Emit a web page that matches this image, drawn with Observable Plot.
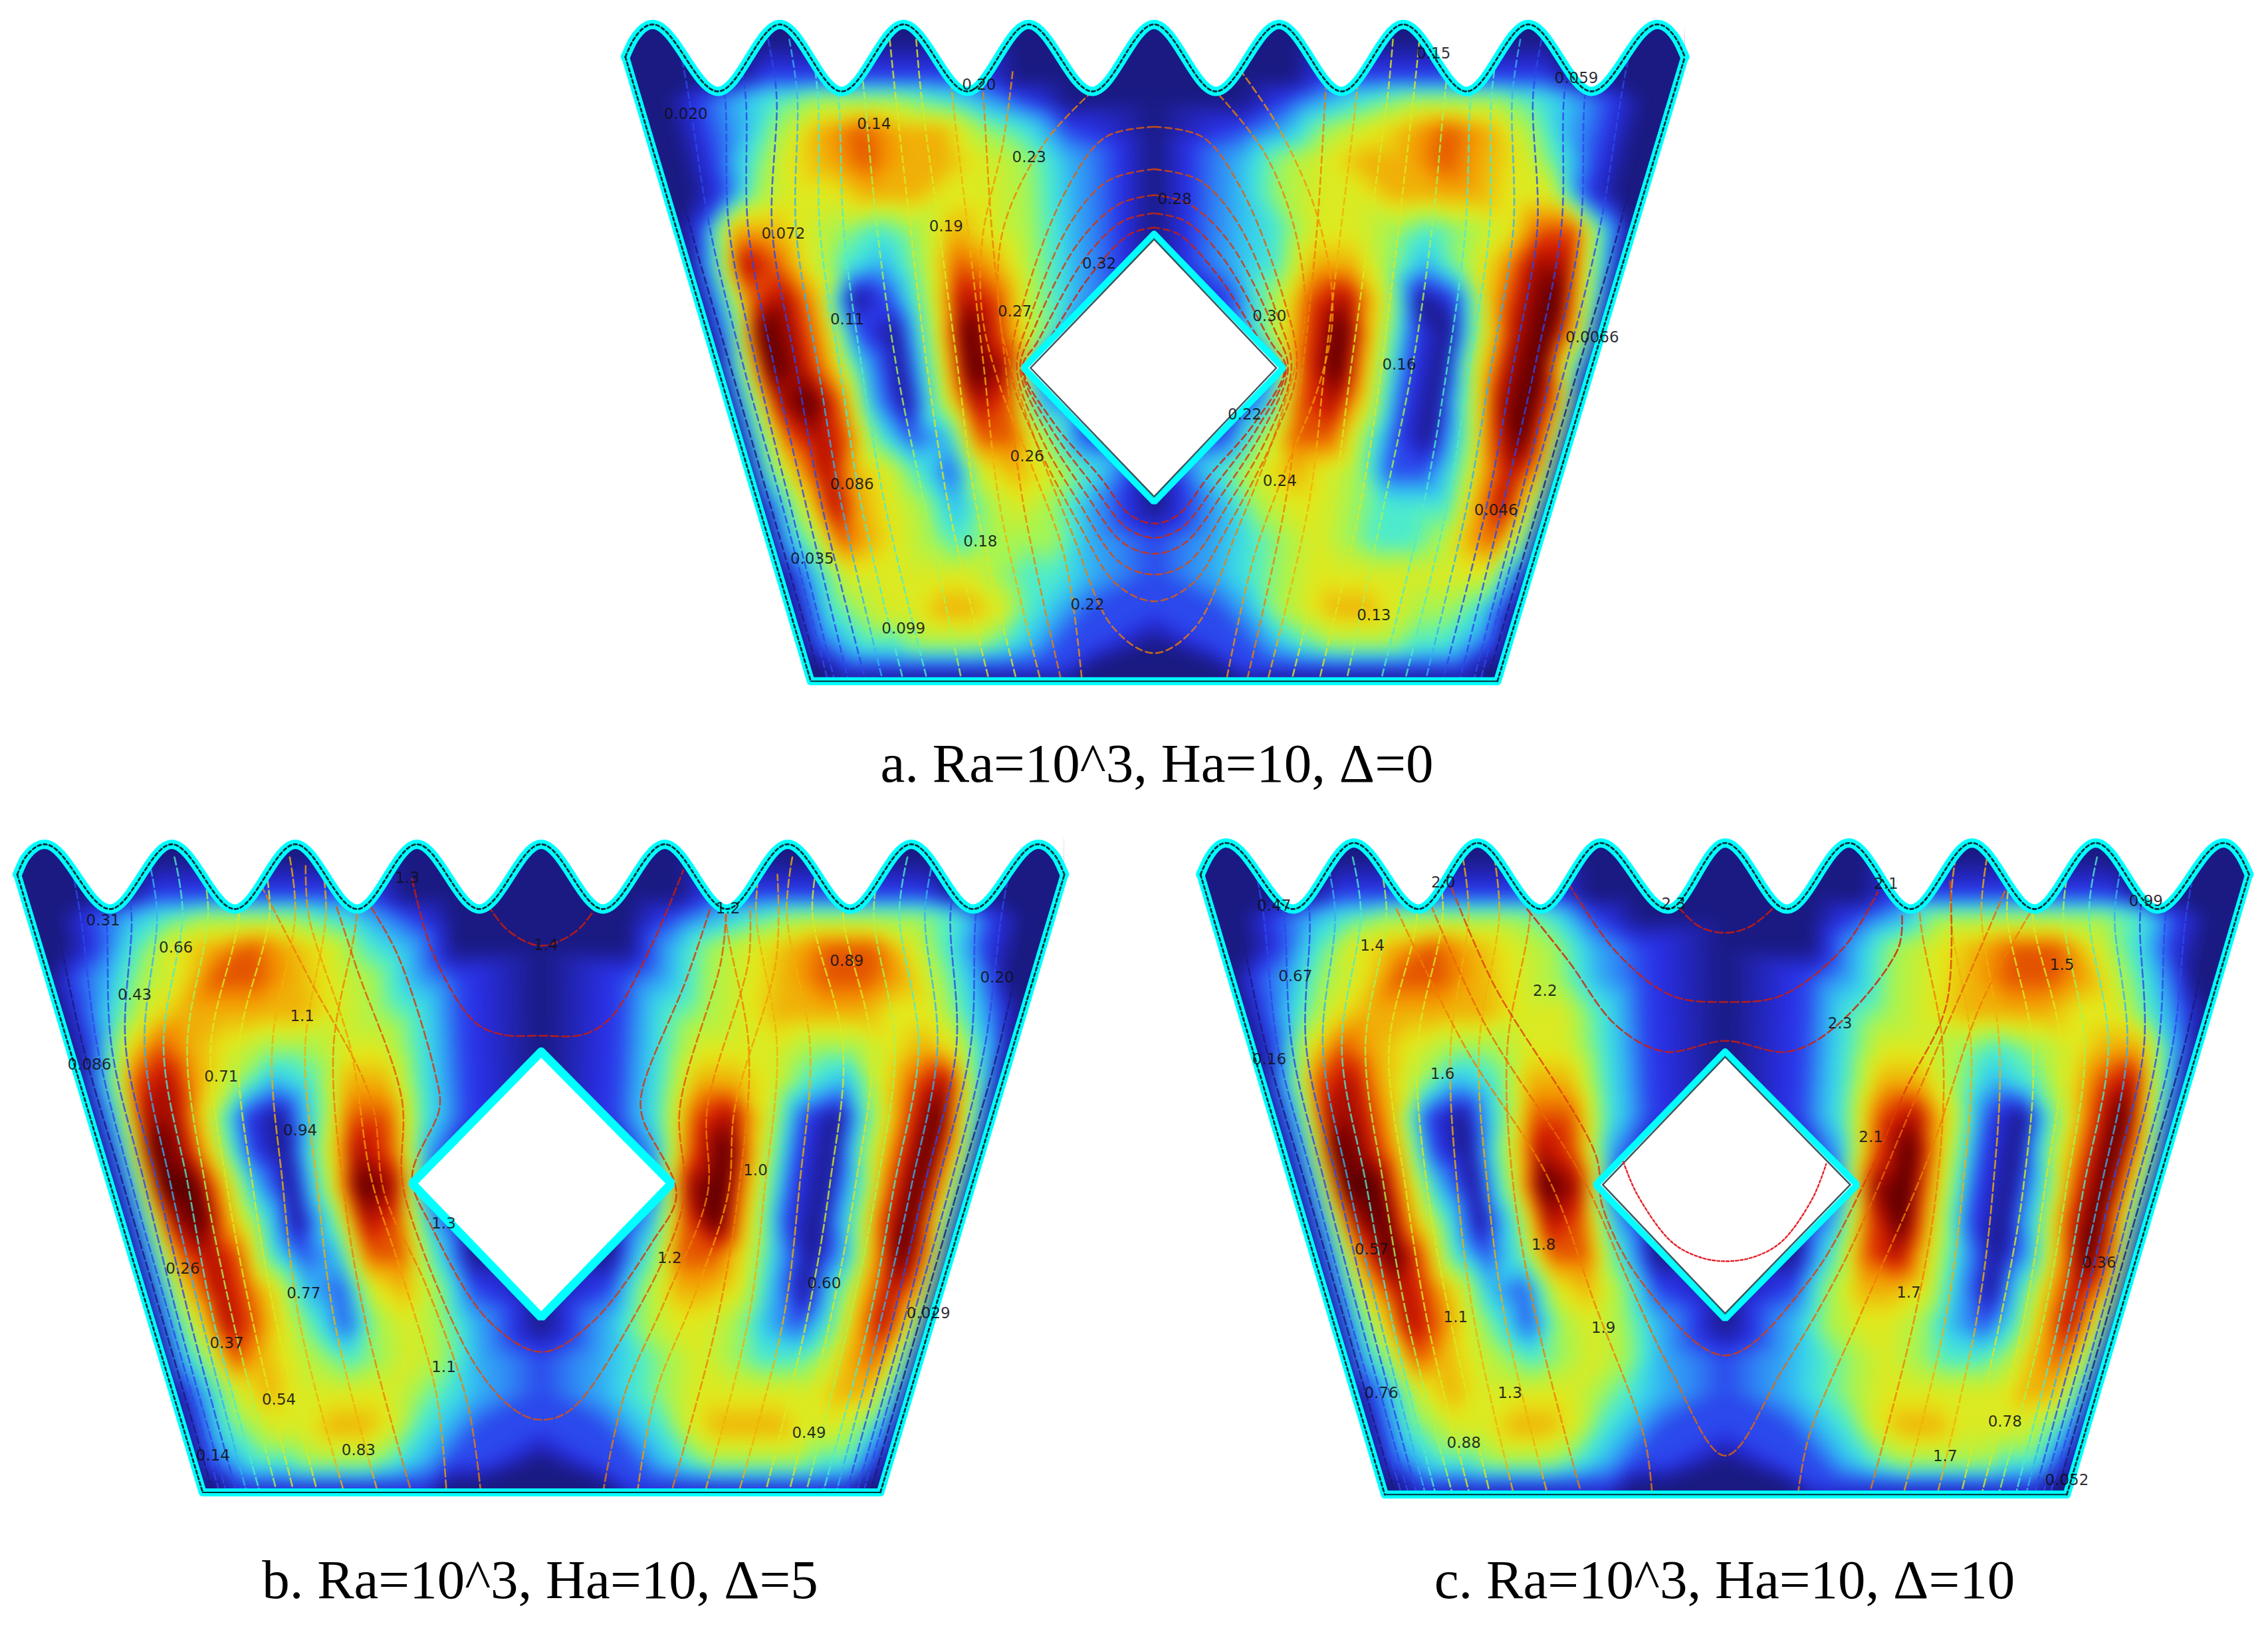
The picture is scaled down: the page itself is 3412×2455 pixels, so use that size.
<!DOCTYPE html>
<html><head><meta charset="utf-8">
<style>html,body{margin:0;padding:0;background:#fff}svg{display:block}</style>
<script src="https://cdn.jsdelivr.net/npm/d3@7"></script>
<script src="https://cdn.jsdelivr.net/npm/@observablehq/plot@0.6"></script>
</head><body>
<script>
// Sample layout: columns are fractions across the cavity, rows are read heights.
const sColumns=[-1,-.95,-.88,-.81,-.74,-.66,-.58,-.5,-.42,-.34,-.26,-.17,0,.17,.26,.34,.42,.5,.58,.66,.74,.81,.88,.95,1];
const rowHeights=[60,150,200,270,340,420,500,580,660,740,820,900,980,1060,1140,1220,1300,1380,1460,1510,1548];
const velocityLevels=[0,.8,1.5,2.3,3.1,4,5.2,6.4,7.5,8.5];
const velocityColors=["#1a1a82","#2a30e8","#2f86f5","#35cdf0","#50efc8","#a6f552","#e6e818","#f59400","#d61c00","#7c0000"];

const heatA=[
[0,0,0,0,0,0,0,0,0,0,0,0,0,0,0,0,0,0,0,0,0,0,0,0,0],
[0,0,0,0,1,1,1,1,1,1,0,0,0,0,0,1,1,1,1,1,1,0,0,0,0],
[0,0,1,2,3,4,4,4,3,2,1,0,0,0,1,2,3,4,4,4,3,2,1,0,0],
[0,0,1,2,4,6,7,6,6,4,3,1,0,1,2,4,5,6,7,6,4,2,1,0,0],
[0,0,1,3,5,6,7,6,6,5,4,2,0,2,4,5,6,6,7,6,5,3,1,0,0],
[0,0,1,4,5,5,6,6,5,5,4,2,0,2,4,5,5,6,6,6,5,5,1,0,0],
[0,1,6,6,5,4,3,4,6,5,4,2,0,2,3,5,5,4,3,4,5,7,7,2,0],
[0,2,8,7,5,3,2,4,7,6,4,2,0,2,3,6,6,4,2,4,6,8,8,3,0],
[0,2,7,8,6,0,1,4,8,7,4,2,0,1,4,7,8,5,0,1,6,8,9,4,0],
[0,2,9,8,6,1,0,4,9,7,4,1,0,1,4,7,9,5,1,0,5,8,9,5,0],
[0,3,9,8,6,2,0,4,9,8,1,1,0,0,1,7,9,5,1,0,5,8,9,4,0],
[0,3,8,9,7,2,0,4,8,7,2,1,0,0,2,7,8,5,1,0,4,8,9,6,0],
[0,3,7,8,7,3,1,2,7,7,4,1,0,1,4,7,7,4,1,0,3,7,9,6,0],
[0,3,6,8,6,5,3,1,5,6,5,3,0,3,5,6,5,4,1,1,3,6,8,6,0],
[0,2,5,8,6,5,4,2,4,5,4,2,0,2,4,5,5,4,3,3,3,6,8,5,0],
[0,2,4,7,6,5,4,3,4,4,4,2,1,2,3,4,5,4,3,3,4,6,7,4,0],
[0,1,3,5,5,5,5,5,4,3,3,2,1,2,3,4,5,5,5,5,5,5,5,2,0],
[0,1,3,4,5,5,6,6,5,3,2,1,1,1,2,4,5,6,6,5,4,4,3,1,0],
[0,1,2,3,3,4,4,4,3,2,1,1,0,1,1,2,3,4,4,4,3,3,2,1,0],
[0,0,1,1,1,1,1,1,1,1,1,0,0,0,1,1,1,1,1,1,1,1,1,0,0],
[0,0,0,0,0,0,0,0,0,0,0,0,0,0,0,0,0,0,0,0,0,0,0,0,0]];

const heatB=[
[0,0,0,0,0,0,0,0,0,0,0,0,0,0,0,0,0,0,0,0,0,0,0,0,0],
[0,0,0,0,1,1,1,1,1,1,0,0,0,0,0,1,1,1,1,1,1,0,0,0,0],
[0,0,1,2,3,4,4,4,3,2,1,0,0,0,1,2,3,4,4,4,4,3,1,0,0],
[0,0,1,3,5,6,7,6,5,3,2,0,0,0,2,4,5,6,7,7,5,3,1,0,0],
[0,1,2,4,5,7,7,6,5,4,2,1,0,1,2,4,5,6,7,7,6,4,2,0,0],
[0,1,3,5,6,6,6,6,5,4,3,1,0,1,3,4,5,6,6,6,5,5,3,1,0],
[0,1,5,7,6,5,4,4,5,5,3,1,0,1,3,5,5,5,4,4,5,6,5,2,0],
[0,2,7,8,6,4,2,3,6,6,3,1,0,1,3,6,6,5,3,2,5,7,8,3,0],
[0,2,8,8,5,1,0,3,7,7,3,1,0,1,3,7,8,5,1,0,4,7,9,4,0],
[0,2,9,8,5,1,0,4,8,7,2,0,0,0,2,7,9,5,1,0,4,7,9,5,0],
[0,2,9,9,6,2,0,4,9,8,1,0,0,0,1,8,9,5,1,0,3,7,9,5,0],
[0,2,8,9,6,3,0,3,8,7,2,0,0,0,2,7,9,5,1,0,3,7,9,5,0],
[0,2,7,8,7,3,1,2,7,7,3,0,0,0,3,7,7,5,2,0,2,6,9,6,0],
[0,2,6,8,7,5,2,1,5,6,4,1,0,1,4,6,6,5,2,0,3,6,8,6,0],
[0,2,5,8,7,5,3,1,4,5,4,2,0,2,4,5,5,4,2,1,3,6,8,5,0],
[0,2,4,7,6,5,4,3,4,5,4,2,1,2,3,4,5,4,3,3,4,6,7,4,0],
[0,1,3,5,6,5,5,5,5,4,3,2,1,2,3,4,5,5,5,5,5,6,6,3,0],
[0,1,3,4,5,5,6,6,5,3,2,1,1,1,2,3,5,6,6,6,5,5,4,2,0],
[0,1,2,3,3,4,4,4,3,2,1,1,0,1,1,2,3,4,4,4,4,3,3,1,0],
[0,0,1,1,1,1,1,1,1,1,0,0,0,0,1,1,1,1,1,1,1,1,1,0,0],
[0,0,0,0,0,0,0,0,0,0,0,0,0,0,0,0,0,0,0,0,0,0,0,0,0]];

const heatC=[
[0,0,0,0,0,0,0,0,0,0,0,0,0,0,0,0,0,0,0,0,0,0,0,0,0],
[0,0,0,0,1,1,1,1,1,1,0,0,0,0,0,1,1,1,1,1,1,0,0,0,0],
[0,0,1,2,3,4,4,4,4,3,1,0,0,0,1,2,4,4,4,4,4,3,1,0,0],
[0,0,1,3,5,6,7,6,5,4,2,1,0,0,2,4,5,6,7,7,5,3,1,0,0],
[0,1,2,4,5,7,7,6,5,4,2,1,0,1,2,4,5,6,7,7,6,4,2,0,0],
[0,1,3,5,6,6,6,6,5,5,3,1,0,1,3,4,5,6,6,6,5,5,3,1,0],
[0,1,5,7,6,5,4,4,5,5,3,1,0,1,3,5,5,4,3,4,5,6,6,2,0],
[0,2,7,8,6,4,2,3,6,6,3,1,0,1,3,6,6,4,2,3,5,7,8,3,0],
[0,2,8,8,6,1,0,3,7,7,3,1,0,1,3,7,8,5,1,0,4,7,9,4,0],
[0,2,9,8,6,1,0,4,8,7,2,0,0,0,2,7,9,5,1,0,4,7,9,5,0],
[0,2,9,9,6,2,0,4,9,8,1,0,0,0,1,8,9,5,1,0,3,7,9,5,0],
[0,2,8,9,6,3,0,3,8,7,2,0,0,0,2,7,9,5,1,0,3,7,9,5,0],
[0,2,7,9,7,3,1,3,7,7,3,0,0,0,3,7,8,5,2,0,2,6,9,6,0],
[0,2,6,8,7,5,2,1,5,6,4,1,0,1,4,6,6,5,2,0,3,6,8,6,0],
[0,2,5,8,7,5,3,1,4,5,4,2,0,2,4,5,5,4,2,1,3,6,8,5,0],
[0,2,4,7,6,5,4,3,4,5,4,2,1,2,3,4,5,4,3,3,4,6,7,4,0],
[0,1,3,5,6,5,5,5,5,4,3,2,1,2,3,4,5,5,5,5,5,6,6,3,0],
[0,1,3,4,5,5,6,6,5,3,2,1,1,1,2,3,5,6,6,5,5,5,4,2,0],
[0,1,2,3,3,4,4,4,3,2,1,1,0,1,1,2,3,4,4,4,4,3,3,1,0],
[0,0,1,1,1,1,1,1,1,1,0,0,0,0,1,1,1,1,1,1,1,1,1,0,0],
[0,0,0,0,0,0,0,0,0,0,0,0,0,0,0,0,0,0,0,0,0,0,0,0,0]];

// Streamlines beside the walls: [level, s at read heights 190,500,820,1140,1545], drawn left and right.
const sideHeights=[190,500,820,1140,1545];
const sideA=[[0,.96,.97,.97,.97,.97],[1,.9,.93,.94,.94,.95],[1,.83,.89,.91,.92,.93],[1,.79,.85,.87,.88,.89],[1,.73,.8,.82,.84,.84],[2,.69,.75,.77,.79,.79],[3,.65,.7,.72,.74,.73],[3,.61,.65,.67,.68,.66],[4,.56,.58,.59,.58,.56],[5,.5,.51,.52,.52,.48],[5,.45,.45,.45,.45,.4],[6,.39,.39,.39,.39,.33],[6.6,.33,.34,.34,.33,.27]];
const sideB=[[0,.95,.97,.97,.97,.97],[1,.9,.94,.95,.95,.95],[1,.85,.91,.92,.93,.93],[1,.8,.88,.89,.9,.9],[2,.75,.84,.86,.87,.87],[3,.7,.8,.82,.84,.83],[4,.65,.75,.78,.79,.78],[5,.59,.7,.73,.74,.73],[5,.53,.64,.67,.68,.66],[6,.48,.57,.6,.62,.58],[6,.42,.5,.52,.53,.48],[6.6,.36,.44,.46,.45,.38]];
const sideC=[[0,.95,.97,.97,.97,.97],[1,.9,.945,.95,.955,.95],[1,.86,.915,.925,.93,.93],[1,.81,.885,.895,.905,.905],[2,.76,.85,.87,.88,.88],[3,.71,.81,.83,.85,.85],[4,.66,.76,.79,.81,.8],[5,.6,.71,.74,.76,.75],[5,.55,.65,.69,.7,.69],[6,.5,.58,.62,.64,.62],[6,.44,.52,.55,.56,.52],[6.6,.38,.46,.49,.48,.42]];

// Streamlines round the obstacle: [level, x,y, x,y, ...] in read coordinates.
const centerA=[
[6.4,574,135,560,300,530,520,530,700,555,860,600,1040,650,1260,675,1545],
[6.4,905,130,960,260,1020,480,1040,700,1020,860,970,1060,925,1260,885,1545],
[6.6,690,180,620,300,560,500,555,700,572,820,610,1000,660,1200,720,1420,780,1480,840,1420,900,1200,950,1000,985,820,1000,700,985,500,940,320,870,180],
[6.9,780,262,710,285,655,400,595,640,572,820,605,980,670,1180,725,1320,780,1360,835,1320,890,1180,955,980,988,820,965,640,905,400,850,285,780,262],
[7.1,780,360,715,385,660,480,600,700,580,820,615,980,670,1130,730,1270,780,1298,830,1270,890,1130,945,980,980,820,960,700,900,480,845,385,780,360],
[7.3,780,420,730,440,670,530,605,730,585,820,620,960,680,1110,735,1225,780,1250,825,1225,880,1110,940,960,975,820,955,730,890,530,830,440,780,420],
[7.4,780,462,735,480,680,565,610,760,588,820,630,960,690,1090,740,1190,780,1213,820,1190,870,1090,930,960,972,820,950,760,880,565,825,480,780,462],
[7.5,780,495,745,510,690,600,615,780,590,820,635,950,700,1070,745,1160,780,1180,815,1160,860,1070,925,950,970,820,945,780,870,600,815,510,780,495]];
const centerB=[
[7.5,700,170,730,230,778,265,830,230,860,170],
[7.5,590,110,620,280,680,440,720,470,778,473,840,470,880,430,940,260,985,90],
[7.3,530,175,570,290,625,570,630,640,590,800,620,920,700,1130,778,1205,850,1140,940,950,975,840,925,660,925,600,990,340,1025,175],
[7,480,175,510,320,575,620,575,800,590,900,680,1230,740,1340,778,1362,820,1340,900,1160,985,860,980,640,1040,300,1048,175],
[6.6,370,125,440,340,530,620,550,840,610,1050,670,1320,690,1530],
[6.6,868,1530,900,1300,960,1080,1020,840,1020,640,1080,300,1082,175],
[6.3,435,80,440,200,500,500,530,800,570,1000,625,1300,640,1530],
[6.3,918,1530,945,1300,1000,1080,1050,840,1060,640,1120,300,1122,100]];
const centerC=[
[7.5,710,175,740,220,778,235,815,220,850,175],
[7.5,550,120,620,280,700,380,778,395,860,380,950,270,1000,140],
[7.5,490,180,550,300,620,450,690,510,778,485,870,510,940,450,1030,270,1035,190],
[7.2,380,130,440,350,590,750,600,870,660,1050,778,1213,900,1040,985,800,1040,600,1100,400,1105,110],
[6.8,350,170,430,450,570,800,640,1050,700,1250,778,1445,860,1250,950,1000,1060,600,1190,120],
[6.6,300,180,400,500,520,800,590,1100,660,1400,672,1535],
[6.6,884,1535,900,1400,980,1100,1075,750,1150,400,1225,180]];
const crossingC=[[7.8,630,765,650,840,700,950,740,985,778,995,820,985,860,950,905,850,925,770]];

// Read outlines: scalloped top, walls and the square obstacle.
const waveA=[[10,100],[22,60],[50,25],[145,180],[235,25],[325,180],[415,25],[508,180],[597,25],[690,180],[780,25],[870,180],[962,25],[1053,180],[1143,25],[1235,180],[1325,25],[1417,180],[1513,25],[1541,60],[1553,100]];
const waveB=[[15,100],[27,60],[55,30],[150,180],[240,30],[332,180],[420,30],[510,180],[597,30],[688,180],[778,30],[868,180],[958,30],[1048,180],[1137,30],[1228,180],[1317,30],[1407,180],[1502,30],[1528,60],[1540,100]];
const waveC=[[15,100],[27,60],[52,27],[150,180],[238,27],[332,180],[418,27],[510,180],[597,27],[695,180],[778,27],[868,180],[958,27],[1048,180],[1137,27],[1228,180],[1317,27],[1407,180],[1503,27],[1528,60],[1540,100]];
const wallsA=[[10,100],[280,1545],[1280,1545],[1553,100]];
const wallsB=[[15,100],[285,1530],[1272,1530],[1540,100]];
const wallsC=[[15,100],[283,1535],[1275,1535],[1540,100]];
const diamondA=[[780,510],[590,820],[780,1130],[968,820],[780,510]];
const diamondB=[[778,510],[590,815],[778,1125],[968,815],[778,510]];
const diamondC=[[778,510],[590,818],[778,1128],[970,818],[778,510]];
const innerA=[[780,522],[600,820],[780,1118],[958,820],[780,522]];
const innerC=[[778,522],[600,818],[778,1116],[960,818],[778,522]];

// Printed contour labels: text, x, y in read coordinates.
const labelsA=[["0.020",98,232],["0.14",372,256],["0.20",525,165],["0.23",598,332],["0.28",810,430],["0.072",240,510],["0.19",477,492],["0.32",700,578],["0.27",577,690],["0.30",948,700],["0.11",333,708],["0.16",1137,812],["0.0066",1418,750],["0.22",912,928],["0.26",595,1025],["0.24",963,1082],["0.086",340,1090],["0.046",1278,1150],["0.18",527,1222],["0.035",282,1262],["0.22",683,1368],["0.13",1100,1392],["0.099",415,1424],["0.15",1187,92],["0.059",1395,150]];
const labelsB=[["0.31",140,207],["1.3",583,108],["1.2",1050,178],["1.4",785,263],["0.66",246,270],["0.89",1223,300],["0.20",1442,338],["0.43",186,378],["1.1",430,428],["0.086",120,540],["0.71",312,568],["0.94",427,692],["1.0",1090,785],["1.3",636,908],["1.2",965,988],["0.26",256,1012],["0.77",432,1070],["0.60",1190,1047],["0.029",1342,1115],["0.37",320,1185],["1.1",636,1240],["0.54",396,1315],["0.49",1168,1393],["0.83",512,1433],["0.14",300,1445]];
const labelsC=[["0.47",122,172],["2.0",368,118],["2.1",1012,122],["2.3",703,168],["0.99",1390,162],["1.4",265,265],["1.5",1268,310],["0.67",153,335],["2.2",516,370],["2.3",945,445],["0.16",115,528],["1.6",367,562],["2.1",990,708],["1.8",514,957],["0.57",264,968],["0.36",1322,998],["1.7",1045,1068],["1.1",386,1125],["1.9",601,1150],["0.76",278,1300],["1.3",465,1300],["0.78",1185,1367],["0.88",398,1415],["1.7",1098,1447],["0.052",1275,1502]];
const captions=[["a. Ra=10^3, Ha=10, \u0394=0",1740,1177],["b. Ra=10^3, Ha=10, \u0394=5",812,2405],["c. Ra=10^3, Ha=10, \u0394=10",2594,2405]];

const panels=[
 {key:"a",ox:930,oy:20,sx:1.033,sy:.65,cx:780,wave:waveA,walls:wallsA,diamond:diamondA,inner:innerA,heat:heatA,side:sideA,center:centerA,labels:labelsA,dash:"10,6"},
 {key:"b",ox:10,oy:1250,sx:1.033,sy:.65,cx:778,wave:waveB,walls:wallsB,diamond:diamondB,inner:null,heat:heatB,side:sideB,center:centerB,labels:labelsB,dash:"12,5"},
 {key:"c",ox:1790,oy:1250,sx:1.0344,sy:.65,cx:778,wave:waveC,walls:wallsC,diamond:diamondC,inner:innerC,heat:heatC,side:sideC,center:centerC,labels:labelsC,dash:"12,5"}];

const marks=[];
const pts=(arr,p)=>arr.map(([x,y])=>({x:p.ox+x*p.sx,y:p.oy+y*p.sy}));
const pairs=a=>{const o=[];for(let i=0;i<a.length;i+=2)o.push([a[i],a[i+1]]);return o;};

for(const p of panels){
  const [sl,bl,br,sr]=p.walls;
  const wallX=(py,side)=>{
    const q=Math.max(py,sl[1]);
    const t=(q-sl[1])/(bl[1]-sl[1]);
    return side<0? sl[0]+t*(bl[0]-sl[0]) : sr[0]+t*(br[0]-sr[0]);
  };
  const place=(s,py)=>[p.cx+Math.abs(s)*(wallX(py,s<0?-1:1)-p.cx),py];
  const heatPts=[];
  rowHeights.forEach((py,r)=>sColumns.forEach((s,c)=>{
    const [x,y]=place(s,py);
    heatPts.push({x:p.ox+x*p.sx,y:p.oy+y*p.sy,v:p.heat[r][c]});
  }));
  const x1=p.ox+sl[0]*p.sx, x2=p.ox+sr[0]*p.sx, y1=p.oy+15*p.sy, y2=p.oy+bl[1]*p.sy;
  marks.push(Plot.raster(heatPts,{x:"x",y:"y",fill:"v",x1,x2,y1,y2,pixelSize:2,blur:5,interpolate:"barycentric"}));

  // streamlines
  const lines=[];let id=0;
  for(const row of p.side){
    const lvl=row[0];
    for(const sign of [-1,1]){
      id++;
      const cps=[[sign*row[1],60]].concat(sideHeights.map((h,i)=>[sign*row[i+1],h]));
      for(const [s,py] of cps){const [x,y]=place(s,py);lines.push({id,level:lvl,x:p.ox+x*p.sx,y:p.oy+y*p.sy});}
    }
  }
  for(const row of p.center){
    id++;
    for(const [x,y] of pairs(row.slice(1))) lines.push({id,level:row[0],x:p.ox+x*p.sx,y:p.oy+y*p.sy});
  }
  marks.push(Plot.line(lines,{x:"x",y:"y",z:"id",stroke:"level",strokeWidth:2.6,strokeDasharray:p.dash,strokeOpacity:.8,curve:"catmull-rom"}));

  // white surround
  const waveP=pts(p.wave,p), wallP=pts(p.walls,p), diaP=pts(p.diamond,p);
  marks.push(Plot.areaY(waveP,{x:"x",y1:()=>y1-10,y2:"y",curve:"monotone-x",fill:"white"}));
  const L=wallP[0],BL=wallP[1],BR=wallP[2],R=wallP[3],under=BL.y+28,over=y1-10;
  marks.push(Plot.line([{x:x1-8,y:over},{x:L.x+1,y:over},L,BL,BR,R,{x:R.x-1,y:over},{x:x2+8,y:over},{x:x2+8,y:under},{x:x1-8,y:under}],{x:"x",y:"y",fill:"white",stroke:"none"}));
  marks.push(Plot.line(diaP,{x:"x",y:"y",fill:"white",stroke:"none"}));

  // cyan walls with the dark dotted core
  marks.push(Plot.line(waveP,{x:"x",y:"y",stroke:"#0ff",strokeWidth:14,curve:"monotone-x"}));
  marks.push(Plot.line(wallP,{x:"x",y:"y",stroke:"#0ff",strokeWidth:12,strokeLinejoin:"round"}));
  marks.push(Plot.line(diaP,{x:"x",y:"y",stroke:"#0ff",strokeWidth:p.key==="b"?13:10,strokeLinejoin:"miter"}));
  marks.push(Plot.line(waveP,{x:"x",y:"y",stroke:"#06303a",strokeWidth:2.8,strokeDasharray:"5,4",curve:"monotone-x"}));
  marks.push(Plot.line(wallP.slice(0,2),{x:"x",y:"y",stroke:"#06303a",strokeWidth:2.8,strokeDasharray:"5,4"}));
  marks.push(Plot.line(wallP.slice(2,4),{x:"x",y:"y",stroke:"#06303a",strokeWidth:2.8,strokeDasharray:"5,4"}));
  marks.push(Plot.line(wallP.slice(1,3),{x:"x",y:"y",stroke:"#06303a",strokeWidth:2}));
  if(p.inner) marks.push(Plot.line(pts(p.inner,p),{x:"x",y:"y",stroke:"#1a3a40",strokeWidth:2.5,strokeOpacity:.85}));
  if(p.key==="c"){
    crossingC.forEach(row=>marks.push(Plot.line(pts(pairs(row.slice(1)),p),{x:"x",y:"y",stroke:"#e8202a",strokeWidth:2.4,strokeDasharray:"4,3",curve:"catmull-rom"})));
  }
  marks.push(Plot.text(p.labels.map(([t,x,y])=>({t,x:p.ox+x*p.sx,y:p.oy+y*p.sy})),{x:"x",y:"y",text:"t",fontFamily:"DejaVu Sans",fontSize:23,fill:"#101018",fillOpacity:.88}));
}
marks.push(Plot.text(captions.map(([t,x,y])=>({t,x,y})),{x:"x",y:"y",text:"t",fontFamily:"Liberation Serif",fontSize:83,fill:"#000",lineAnchor:"bottom",dy:-2}));

const chart=Plot.plot({width:3412,height:2455,margin:0,
  x:{domain:[0,3412],range:[0,3412],axis:null},
  y:{domain:[0,2455],range:[0,2455],axis:null},
  color:{type:"linear",domain:velocityLevels,range:velocityColors},
  style:{background:"#fff"},marks});
document.body.appendChild(chart);
</script>
</body></html>
